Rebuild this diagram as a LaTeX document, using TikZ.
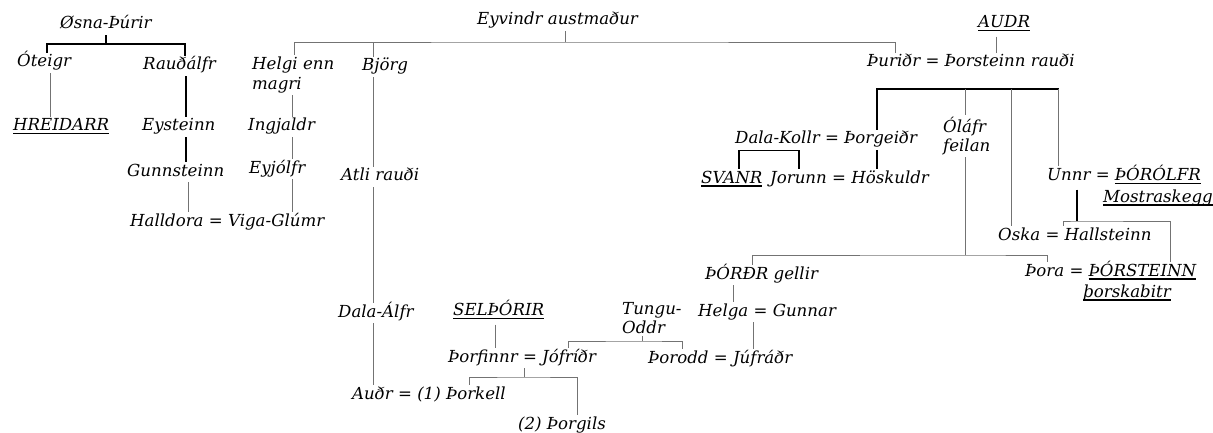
\documentclass[tikz,border=0pt]{standalone}
\usepackage{fontspec}
\setmainfont{DejaVu Serif}
\usepackage{tikz}
\usetikzlibrary{positioning}
\newcommand{\nm}{\fontsize{16.6}{19.5}\selectfont\itshape}
\newcommand{\undl}[1]{\setbox0=\hbox{#1}\rlap{\rule[-3.5pt]{\wd0}{1.2pt}}\box0}

\begin{document}
\begin{tikzpicture}[x=1pt,y=-1pt,
    pers/.style={font=\nm, inner xsep=0pt, inner ysep=2pt, anchor=west,
                 text height=12pt, text depth=4pt},
    pers2/.style={font=\nm, inner xsep=0pt, inner ysep=2pt, anchor=west, align=left},
    und/.style={text depth=7pt},
    link/.style={draw=black!55, line width=0.8pt},
    blink/.style={draw=black, line width=1.2pt}]
  \useasboundingbox (0,0) rectangle (1213,433);
  % left branch
  \node[pers] (osna) at (60,25) {Øsna-Þúrir};
  \node[pers] (oteigr) at (17,63) {Óteigr};
  \node[pers] (raudalfr) at (143,66) {Rauðálfr};
  \node[pers] (hreidarr) at (13,127) {\undl{HREIDARR}};
  \node[pers] (eysteinn) at (142,127) {Eysteinn};
  \node[pers] (gunnsteinn) at (127,172) {Gunnsteinn};
  \node[pers] (halldora) at (130,222) {Halldora = Viga-Glúmr};
  % Eyvindr
  \node[pers] (eyvindr) at (477,21) {Eyvindr austmaður};
  \node[pers2] (helgi) at (252,75) {Helgi enn\\magri};
  \node[pers] (ingjaldr) at (248,127) {Ingjaldr};
  \node[pers] (eyjolfr) at (249,169) {Eyjólfr};
  \node[pers] (bjorg) at (362,67) {Björg};
  \node[pers] (atli) at (341,177) {Atli rauði};
  \node[pers] (dalaalfr) at (338,313) {Dala-Álfr};
  \node[pers] (audr) at (352,395) {Auðr = (1) Þorkell};
  \node[pers,und] (selthorir) at (453,313) {\undl{SELÞÓRIR}};
  \node[pers] (thorfinnr) at (448,358) {Þorfinnr = Jófríðr};
  \node[pers] (thorgils) at (518,425) {(2) Þorgils};
  \node[pers2] (tungu) at (622,318) {Tungu-\\Oddr};
  \node[pers] (thorodd) at (648,359) {Þorodd = Júfráðr};
  \node[pers] (thordr) at (705,275) {ÞÓRÐR gellir};
  \node[pers] (helga) at (698,312) {Helga = Gunnar};
  % Auðr
  \node[pers,und] (audrtop) at (978,25) {\undl{AUDR}};
  \node[pers] (thuridr) at (867,63) {Þuriðr = Þorsteinn rauði};
  \node[pers] (dalakollr) at (735,140) {Dala-Kollr = Þorgeiðr};
  \node[pers] (svanr) at (701,179) {\undl{SVANR}};
  \node[pers] (jorunn) at (770,179) {Jorunn = Höskuldr};
  \node[pers2] (olafr) at (943,136) {Óláfr\\feilan};
  \node[pers,und] (unnr) at (1047,178) {Unnr = \undl{ÞÓRÓLFR}};
  \node[pers] (mostr) at (1103,198) {\undl{Mostraskegg}};
  \node[pers] (oska) at (998,236) {Oska = Hallsteinn};
  \node[pers] (thora) at (1025,272) {Þora = \undl{ÞÓRSTEINN}};
  \node[pers] (thorska) at (1083,293) {\undl{þorskabitr}};

  % lines, left branch
  \coordinate (j1) at (106,44);
  \draw[blink] (osna.south -| j1) -- (j1);
  \draw[blink] (oteigr.north -| 47,0) |- (j1) -| (raudalfr.north -| 185,0);
  \draw[link] (oteigr.south -| 50,0) -- (hreidarr.north -| 50,0);
  \draw[blink] (raudalfr.south -| 186,0) -- (eysteinn.north -| 186,0);
  \draw[blink] (eysteinn.south -| 186,0) -- (gunnsteinn.north -| 186,0);
  \draw[link] (gunnsteinn.south -| 188,0) -- (halldora.north -| 188,0);

  % lines, Eyvindr
  \coordinate (j2) at (565,42);
  \draw[link] (eyvindr.south -| j2) -- (j2);
  \draw[link] (helgi.north -| 294,0) |- (j2) -| (thuridr.north -| 895,0);
  \draw[link] (bjorg.north -| 373,0) -- (j2 -| 373,0);
  \draw[link] (helgi.south -| 292,0) -- (ingjaldr.north -| 292,0);
  \draw[link] (ingjaldr.south -| 292,0) -- (eyjolfr.north -| 292,0);
  \draw[link] (eyjolfr.south -| 292,0) -- (halldora.north -| 292,0);
  \draw[link] (bjorg.south -| 373,0) -- (atli.north -| 373,0);
  \draw[link] (atli.south -| 373,0) -- (dalaalfr.north -| 373,0);
  \draw[link] (dalaalfr.south -| 373,0) -- (audr.north -| 373,0);
  \draw[link] (selthorir.south -| 495,0) -- (thorfinnr.north -| 495,0);
  \coordinate (j3) at (524,377);
  \draw[link] (thorfinnr.south -| j3) -- (j3);
  \draw[link] (audr.north -| 469,0) |- (j3) -| (thorgils.north -| 577,0);
  \coordinate (j4) at (642,341);
  \draw[link] (tungu.south -| j4) -- (j4);
  \draw[link] (thorfinnr.north -| 568,0) |- (j4) -| (thorodd.north -| 682,0);
  \coordinate (j5) at (965,255);
  \draw[link] (olafr.south -| j5) -- (j5);
  \draw[link] (thordr.north -| 752,0) |- (j5) -| (thora.north -| 1047,0);
  \draw[link] (thordr.south -| 733,0) -- (helga.north -| 733,0);
  \draw[link] (helga.south -| 753,0) -- (thorodd.north -| 753,0);

  % lines, Auðr
  \draw[link] (audrtop.south -| 996,0) -- (thuridr.north -| 996,0);
  \coordinate (j6) at (968,89);
  \draw[blink] (dalakollr.north -| 877,0) |- (j6 -| 1059,0);
  \draw[link] (j6 -| 1058,0) -- (unnr.north -| 1058,0);
  \draw[link] (olafr.north -| j5) -- (j6 -| j5);
  \draw[link] (oska.north -| 1011,0) -- (j6 -| 1011,0);
  \draw[blink] (dalakollr.south -| 877,0) -- (jorunn.north -| 877,0);
  \draw[blink] (svanr.north -| 739,0) |- (dalakollr.south -| 799,0) -- (jorunn.north -| 799,0);
  \coordinate (j7) at (1077,221);
  \draw[blink] (unnr.south -| j7) -- (j7);
  \draw[link] (oska.north -| 1063,0) |- (j7) -| (thora.north -| 1170,0);
\end{tikzpicture}
\end{document}
